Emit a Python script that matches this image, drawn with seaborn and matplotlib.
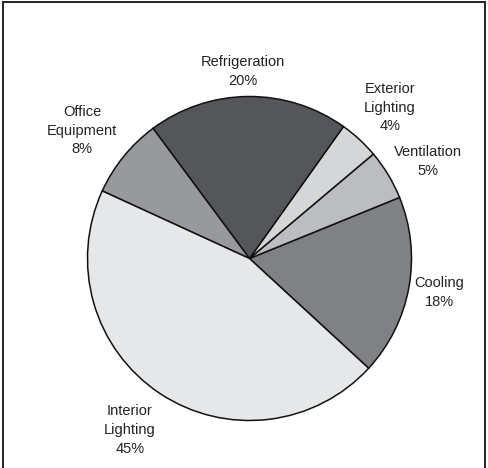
import matplotlib
matplotlib.use("Agg")
import matplotlib.pyplot as plt
import seaborn as sns
from matplotlib.patches import Rectangle

sns.set_theme(style="white")
plt.rcParams['font.family'] = ['Liberation Sans', 'DejaVu Sans']

categories = ["Cooling", "Ventilation", "Exterior\nLighting", "Refrigeration",
              "Office\nEquipment", "Interior\nLighting"]
values = [18, 5, 4, 20, 8, 45]
colors = ["#808184", "#bcbdc0", "#d5d6d8", "#555659", "#98999c", "#e6e7e8"]
label_pos = [(1.170, -0.207), (1.102, 0.599), (0.867, 0.932), (-0.04, 1.154),
             (-1.034, 0.79), (-0.738, -1.056)]

W, H = 488, 468
fig = plt.figure(figsize=(W / 100, H / 100), dpi=100)
ax = fig.add_axes([0, 0, 1, 1])

ax.pie(values, colors=colors, startangle=-42.65, counterclock=True,
       radius=1.0, wedgeprops=dict(edgecolor="#111111", linewidth=1.1))

for cat, v, (x, y) in zip(categories, values, label_pos):
    ax.text(x, y, f"{cat}\n{v}%", ha="center", va="center", fontsize=10.5,
            color="#222222", linespacing=1.45)

cx, cy, r = 249.5, 258.5, 162.0
ax.set_aspect("auto")
ax.set_xlim(-cx / r, (W - cx) / r)
ax.set_ylim(-(H - cy) / r, cy / r)
ax.axis("off")

fig.patches.append(Rectangle((2.5 / W, -0.05), (485 - 2.5) / W, 1.05 - 2.5 / H,
                             transform=fig.transFigure, fill=False,
                             edgecolor="#222222", linewidth=1.4))

fig.savefig("out.png", dpi=100, facecolor="white")
